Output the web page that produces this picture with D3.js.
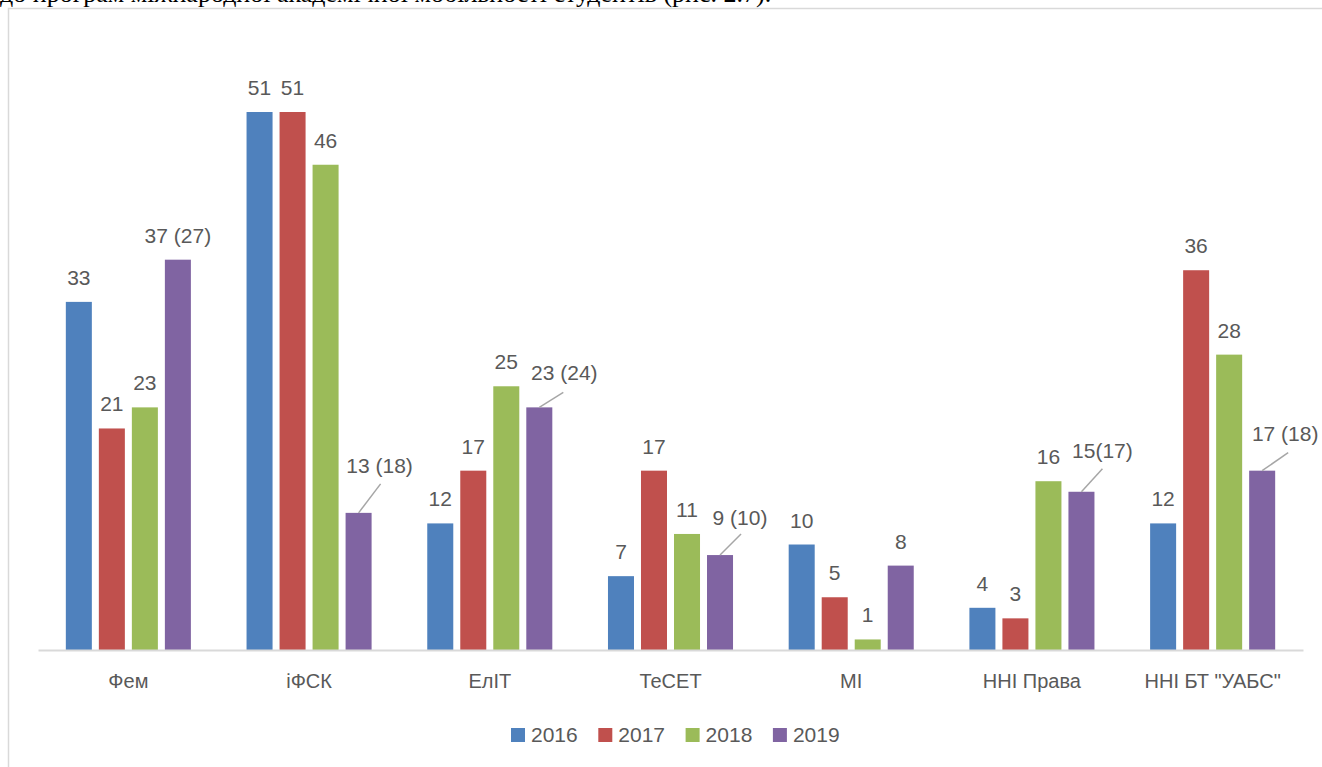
<!DOCTYPE html>
<html>
<head>
<meta charset="utf-8">
<script src="https://cdn.jsdelivr.net/npm/d3@7"></script>
<style>
  html, body { margin: 0; padding: 0; background: #fff; overflow: hidden; }
  svg { display: block; }
</style>
</head>
<body>
<svg id="chart" width="1322" height="767"></svg>
<script>
// ---- data ----
const categories = ["Фем", "іФСК", "ЕлІТ", "ТеСЕТ", "МІ", "ННІ Права", "ННІ БТ \"УАБС\""];
const seriesNames = ["2016", "2017", "2018", "2019"];
const values2016 = [33, 51, 12, 7, 10, 4, 12];
const values2017 = [21, 51, 17, 17, 5, 3, 36];
const values2018 = [23, 46, 25, 11, 1, 16, 28];
const values2019 = [37, 13, 23, 9, 8, 15, 17];
const labels2019 = ["37 (27)", "13 (18)", "23 (24)", "9 (10)", "8", "15(17)", "17 (18)"];
const pageText = "до програм міжнародної академічної мобільності студентів (рис. 2.7).";

// ---- styling / layout (not data) ----
const colors = ["#4F81BD", "#C0504D", "#9BBB59", "#8064A2"];
const textColor = "#595959";
const gridColor = "#D9D9D9";
// leader-line label offsets for 2019 series: [textDx, baselineDy, lineDx, lineDy] or null
const leaderLayout = [null, [21, -40, 22, -29], [25, -27, 24, -15], [20, -30, 21, -21], null, [21, -34, 21, -23], [23, -30, 26, -18]];

const svg = d3.select("#chart");
const allSeries = [values2016, values2017, values2018, values2019];

// top page text (cut off by the top edge, as in the source)
svg.append("text")
  .attr("x", 0).attr("y", 1.5)
  .attr("font-family", "Liberation Serif, Times New Roman, serif")
  .attr("font-size", 26)
  .attr("fill", "#000")
  .text(pageText);

// chart frame
svg.append("rect")
  .attr("x", 8.5).attr("y", 8.5)
  .attr("width", 1400).attr("height", 800)
  .attr("fill", "#fff")
  .attr("stroke", gridColor)
  .attr("stroke-width", 1.5);

const plotLeft = 38, plotRight = 1303, baseY = 650, topY = 112;

const x0 = d3.scaleBand().domain(categories).range([plotLeft, plotRight])
  .paddingInner(0.308).paddingOuter(0.154);
const x1 = d3.scaleBand().domain(seriesNames).range([0, x0.bandwidth()])
  .paddingInner(0.212).paddingOuter(0);
const y = d3.scaleLinear().domain([0, 51]).range([baseY, topY]);

const rows = categories.map((c, i) => ({
  cat: c, i,
  vals: seriesNames.map((s, k) => ({ s, k, v: allSeries[k][i], i }))
}));

const groups = svg.append("g").selectAll("g").data(rows).join("g")
  .attr("transform", d => `translate(${x0(d.cat)},0)`);

groups.selectAll("rect").data(d => d.vals).join("rect")
  .attr("x", d => x1(d.s))
  .attr("y", d => y(d.v))
  .attr("width", x1.bandwidth())
  .attr("height", d => baseY - y(d.v))
  .attr("fill", d => colors[d.k]);

// value labels
groups.selectAll("text.val").data(d => d.vals).join("text")
  .attr("class", "val")
  .each(function(d) {
    const cx = x1(d.s) + x1.bandwidth() / 2;
    const top = y(d.v);
    const lay = d.k === 3 ? leaderLayout[d.i] : null;
    const t = d3.select(this);
    if (lay) {
      t.attr("x", cx + lay[0]).attr("y", top + lay[1]);
    } else {
      t.attr("x", cx).attr("y", top - 17);
    }
  })
  .attr("text-anchor", "middle")
  .attr("font-family", "Liberation Sans, Arial, sans-serif")
  .attr("font-size", 21)
  .attr("fill", textColor)
  .text(d => d.k === 3 ? labels2019[d.i] : d.v);

// leader lines
groups.selectAll("line.leader").data(d => d.vals.filter(v => v.k === 3 && leaderLayout[v.i])).join("line")
  .attr("class", "leader")
  .attr("x1", d => x1(d.s) + x1.bandwidth() / 2)
  .attr("y1", d => y(d.v))
  .attr("x2", d => x1(d.s) + x1.bandwidth() / 2 + leaderLayout[d.i][2])
  .attr("y2", d => y(d.v) + leaderLayout[d.i][3])
  .attr("stroke", "#A6A6A6")
  .attr("stroke-width", 1.5);

// x axis
const xAxis = svg.append("g")
  .attr("transform", `translate(0,${baseY})`)
  .call(d3.axisBottom(x0).tickSize(0).tickSizeOuter(0).tickPadding(24));
xAxis.select(".domain").attr("stroke", gridColor).attr("stroke-width", 2);
xAxis.selectAll("text")
  .attr("font-family", "Liberation Sans, Arial, sans-serif")
  .attr("font-size", 20)
  .attr("fill", textColor);

// legend
const legendStart = 511, legendStep = 87.3;
const legend = svg.append("g").selectAll("g").data(seriesNames).join("g")
  .attr("transform", (d, k) => `translate(${legendStart + k * legendStep},728)`);
legend.append("rect").attr("width", 14).attr("height", 14)
  .attr("fill", (d, k) => colors[k]);
legend.append("text")
  .attr("x", 20).attr("y", 14)
  .attr("font-family", "Liberation Sans, Arial, sans-serif")
  .attr("font-size", 21)
  .attr("fill", textColor)
  .text(d => d);
</script>
</body>
</html>
